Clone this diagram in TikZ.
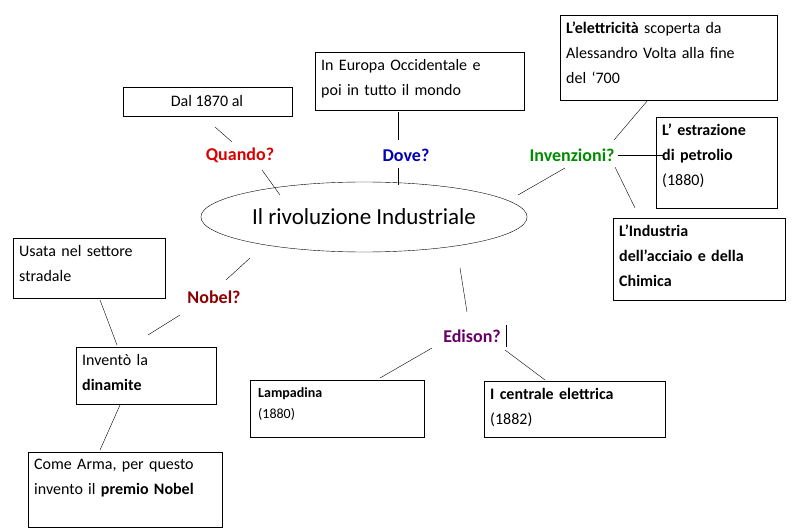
\documentclass[tikz,border=0pt]{standalone}
\usepackage{fontspec}
\setmainfont{Carlito}
\usetikzlibrary{positioning,shapes.geometric}

\tikzset{
    infobox/.style={draw=none, anchor=north west, align=left, inner xsep=6pt, inner ysep=7pt,
        font=\fontsize{16}{25}\selectfont},
    question/.style={font=\fontsize{18}{20}\selectfont\bfseries},
    link/.style={thin}
}

\begin{document}
\begin{tikzpicture}[x=1pt,y=-1pt]
    \useasboundingbox (0,0) rectangle (794,529);

    % Central ellipse
    \node[draw, ellipse, minimum width=310, minimum height=70,
          font=\fontsize{23}{26}\selectfont] (center) at (364,217) {Il rivoluzione Industriale};

    % Boxes
    \draw[thick] (123,87) rectangle (292,116);
    \node[font=\fontsize{16}{18}\selectfont] (dal) at (207,101) {Dal 1870 al};
    \node[infobox, text width=196] (europa) at (315,52) {In Europa Occidentale e\\poi in tutto il mondo};
    \draw[thick] (315,52) rectangle (524,110);
    \node[infobox, text width=204] (volta) at (560,15) {\textbf{L'elettricità} scoperta da\\Alessandro Volta alla fine\\del ‘700};
    \draw[thick] (560,15) rectangle (777,100);
    \node[infobox, text width=108] (petrolio) at (656,117) {\textbf{L' estrazione}\\\textbf{di petrolio}\\(1880)};
    \draw[thick] (656,117) rectangle (777,208);
    \node[infobox, text width=160] (acciaio) at (613,218) {\textbf{L'Industria}\\\textbf{dell'acciaio e della}\\\textbf{Chimica}};
    \draw[thick] (613,218) rectangle (785,300);
    \node[infobox, text width=140] (stradale) at (13,238) {Usata nel settore\\stradale};
    \draw[thick] (13,238) rectangle (165,298);
    \node[infobox, text width=128] (dinamite) at (76,347) {Inventò la\\\textbf{dinamite}};
    \draw[thick] (76,347) rectangle (216,404);
    \node[infobox, text width=182] (arma) at (28,452) {Come Arma, per questo\\invento il \textbf{premio Nobel}};
    \draw[thick] (28,452) rectangle (222,527);
    \node[infobox, text width=160, font=\fontsize{14}{21}\selectfont] (lampadina) at (252,380) {\textbf{Lampadina}\\ (1880)};
    \draw[thick] (250,380) rectangle (424,437);
    \node[infobox, text width=168] (centrale) at (484,381) {\textbf{I centrale elettrica}\\(1882)};
    \draw[thick] (484,381) rectangle (665,437);

    % Questions
    \node[question, text=red!85!black] (quando) at (240,155) {Quando?};
    \node[question, text=blue!70!black] (dove) at (406,155) {Dove?};
    \node[question, text=green!55!black] (invenzioni) at (572,155) {Invenzioni?};
    \node[question, text=red!55!black] (nobel) at (214,297) {Nobel?};
    \node[question, text=violet!80!black] (edison) at (472,336) {Edison?};
    \draw[thick] (506,325) -- (506,347);

    % Connectors
    \draw[link] (215,127) -- (232,142);
    \draw[link] (262,170) -- (280,195);
    \draw[link] (398,112) -- (398,140);
    \draw[link] (398,168) -- (398,185);
    \draw[link] (518,195) -- (565,168);
    \draw[link] (614,140) -- (648,100);
    \draw[link] (618,155) -- (664,155);
    \draw[link] (615,167) -- (635,208);
    \draw[link] (250,258) -- (226,280);
    \draw[link] (180,315) -- (148,335);
    \draw[link] (100,300) -- (117,345);
    \draw[link] (120,405) -- (100,450);
    \draw[link] (460,268) -- (467,312);
    \draw[link] (432,348) -- (380,378);
    \draw[link] (505,350) -- (545,380);
\end{tikzpicture}
\end{document}
